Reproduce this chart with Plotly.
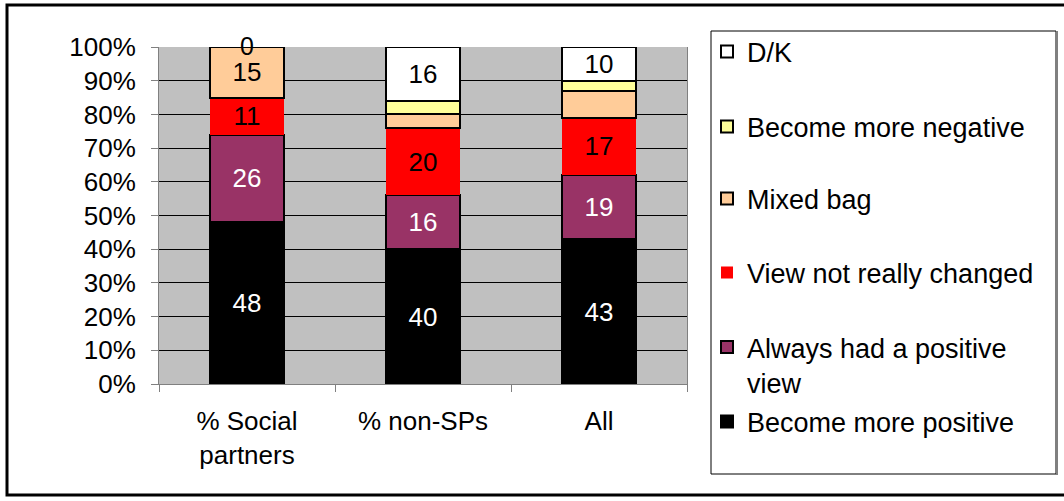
import plotly.graph_objects as go

# Survey groups along the x axis
categories = ["% Social<br>partners", "% non-SPs", "All"]

# Stacked shares (percent), listed bottom to top
series_names = [
    "Become more positive",
    "Always had a positive<br>view",
    "View not really changed",
    "Mixed bag",
    "Become more negative",
    "D/K",
]
become_more_positive = [48, 40, 43]
always_positive_view = [26, 16, 19]
view_not_changed = [11, 20, 17]
mixed_bag = [15, 4, 8]
become_more_negative = [0, 4, 3]
dont_know = [0, 16, 10]

series_values = [
    become_more_positive,
    always_positive_view,
    view_not_changed,
    mixed_bag,
    become_more_negative,
    dont_know,
]
fill_colors = ["#000000", "#993366", "#FF0000", "#FFCC99", "#FFFF99", "#FFFFFF"]
label_colors = ["#FFFFFF", "#FFFFFF", "#000000", "#000000", "#000000", "#000000"]
outline_widths = [2, 2, 0, 2, 2, 2]

FONT = "Liberation Sans, Arial, sans-serif"
FS = 26
LEG_FS = 27

# plot area in pixels: x 159..687, y 47..384
PX_L, PX_R, PX_T, PX_B = 159, 687, 47, 384


def px_to_paper_x(px):
    return (px - PX_L) / (PX_R - PX_L)


def px_to_paper_y(py):
    return (PX_B - py) / (PX_B - PX_T)


# vertical centre (pixels) of each legend entry, bottom series first
legend_centres = [422, 365, 273, 199, 127, 52]
legend_ids = ["legend", "legend2", "legend3", "legend4", "legend5", "legend6"]

fig = go.Figure()
for i, (name, vals) in enumerate(zip(series_names, series_values)):
    labels = [str(v) if (v >= 10) else "" for v in vals]
    fig.add_trace(go.Bar(
        x=categories,
        y=vals,
        name=name,
        legend=legend_ids[i],
        marker=dict(color=fill_colors[i],
                    line=dict(color="#000000", width=outline_widths[i])),
        text=labels,
        textposition="inside",
        insidetextanchor="middle",
        textangle=0,
        textfont=dict(family=FONT, size=FS, color=label_colors[i]),
        constraintext="none",
        hoverinfo="skip",
    ))

# zero-valued D/K share still gets its value printed at the top of its stack
for c, cat in enumerate(categories):
    if dont_know[c] == 0:
        top = sum(s[c] for s in series_values)
        fig.add_annotation(x=cat, y=top, text=str(dont_know[c]), showarrow=False,
                           font=dict(family=FONT, size=FS - 1, color="#000000"),
                           yanchor="middle", xanchor="center", yshift=1)

# outer chart frame (extends past the right edge)
fig.add_shape(type="rect", xref="paper", yref="paper",
              x0=px_to_paper_x(7), x1=px_to_paper_x(1075),
              y0=px_to_paper_y(495), y1=px_to_paper_y(5),
              line=dict(color="#000000", width=3), layer="below")

# legend frame
fig.add_shape(type="rect", xref="paper", yref="paper",
              x0=px_to_paper_x(711), x1=px_to_paper_x(1056),
              y0=px_to_paper_y(474), y1=px_to_paper_y(31),
              line=dict(color="#000000", width=1), fillcolor="#FFFFFF",
              layer="below")
fig.add_shape(type="line", xref="paper", yref="paper",
              x0=px_to_paper_x(1057), x1=px_to_paper_x(1057),
              y0=px_to_paper_y(475), y1=px_to_paper_y(31),
              line=dict(color="#808080", width=2))

legend_layout = {}
for i, lid in enumerate(legend_ids):
    legend_layout[lid] = dict(
        x=px_to_paper_x(707), y=px_to_paper_y(legend_centres[i]),
        xanchor="left", yanchor="middle",
        valign="top",
        bgcolor="rgba(0,0,0,0)", borderwidth=0,
        font=dict(family=FONT, size=LEG_FS, color="#000000"),
        itemclick=False, itemdoubleclick=False,
    )

fig.update_layout(
    width=1064, height=501,
    margin=dict(l=PX_L, r=1064 - PX_R, t=PX_T, b=501 - PX_B),
    barmode="stack",
    bargap=0.58,
    plot_bgcolor="#C0C0C0",
    paper_bgcolor="#FFFFFF",
    font=dict(family=FONT, size=FS, color="#000000"),
    showlegend=True,
    **legend_layout,
)
fig.update_xaxes(
    showline=True, linecolor="#808080", linewidth=1,
    ticks="outside", tickson="boundaries", ticklen=7, tickcolor="#808080",
    ticklabelstandoff=14,
    tickfont=dict(family=FONT, size=FS),
    showgrid=False,
)
fig.update_yaxes(
    range=[0, 100], tickmode="array",
    tickvals=list(range(0, 101, 10)),
    ticktext=[f"{v}%" for v in range(0, 101, 10)],
    showgrid=True, gridcolor="#000000", gridwidth=1,
    showline=True, mirror=True, linecolor="#808080", linewidth=1,
    ticks="outside", ticklen=7, tickcolor="#808080",
    ticklabelstandoff=10,
    zeroline=False,
    tickfont=dict(family=FONT, size=FS),
)

fig.write_html("out.html")
